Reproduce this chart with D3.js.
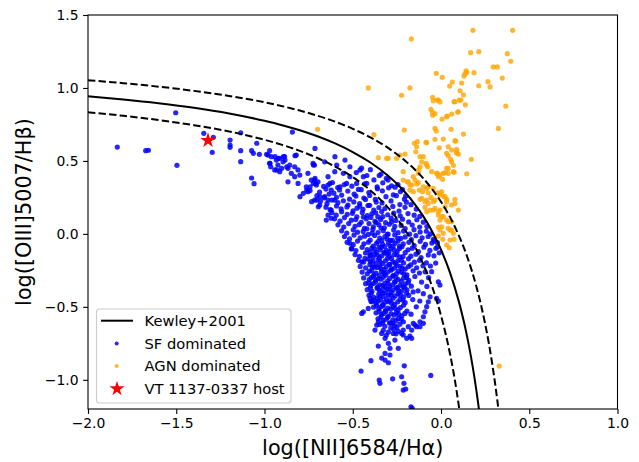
<!DOCTYPE html>
<html><head><meta charset="utf-8">
<script src="https://cdn.jsdelivr.net/npm/d3@7"></script>
<style>body{margin:0;background:#fff}svg{display:block}text{font-family:"DejaVu Sans",sans-serif}</style>
</head><body><svg id="c" width="639" height="462"></svg>
<script>
// ---- data ----
const xTicks = [-2.0, -1.5, -1.0, -0.5, 0.0, 0.5, 1.0];
const yTicks = [-1.0, -0.5, 0.0, 0.5, 1.0, 1.5];
const xLabel = "log([NII]6584/H\u03b1)";
const yLabel = "log([OIII]5007/H\u03b2)";
const legendLabels = ["Kewley+2001", "SF dominated", "AGN dominated", "VT 1137-0337 host"];

// Kewley+2001 curve (solid) and the two dashed companions
const kewleyX = [-2.0,-1.8,-1.6,-1.4,-1.2,-1.0,-0.9,-0.8,-0.7,-0.6,-0.5,-0.4,-0.3,-0.25,-0.2,-0.15,-0.1,-0.05,0.0,0.05,0.1,0.13,0.15,0.17,0.19,0.21,0.22];
const kewleyY = [0.943,0.921,0.895,0.864,0.825,0.775,0.745,0.710,0.669,0.620,0.561,0.489,0.398,0.343,0.280,0.206,0.120,0.017,-0.108,-0.262,-0.459,-0.604,-0.716,-0.843,-0.989,-1.156,-1.25];
const upperX = [-2.0,-1.8,-1.6,-1.4,-1.2,-1.0,-0.8,-0.6,-0.5,-0.4,-0.3,-0.2,-0.15,-0.1,-0.05,0.0,0.05,0.1,0.15,0.2,0.23,0.25,0.27,0.29,0.31,0.32,0.33];
const upperY = [1.053,1.033,1.009,0.980,0.945,0.902,0.845,0.769,0.720,0.661,0.589,0.498,0.443,0.380,0.306,0.220,0.117,-0.008,-0.162,-0.359,-0.504,-0.616,-0.743,-0.889,-1.056,-1.15,-1.252];
const lowerX = [-2.0,-1.8,-1.6,-1.4,-1.2,-1.0,-0.9,-0.8,-0.7,-0.6,-0.5,-0.4,-0.35,-0.3,-0.25,-0.2,-0.15,-0.1,-0.05,0.0,0.03,0.05,0.07,0.09,0.11];
const lowerY = [0.833,0.809,0.780,0.745,0.702,0.645,0.610,0.569,0.520,0.461,0.389,0.298,0.243,0.180,0.106,0.020,-0.083,-0.208,-0.362,-0.559,-0.704,-0.816,-0.943,-1.089,-1.256];

// SF dominated galaxies [log NII/Ha, log OIII/Hb]
const sfPoints = [
[-1.834,0.595],[-1.673,0.570],[-1.658,0.573],[-1.496,0.470],[-1.503,0.830],[-1.344,0.689],[-1.290,0.662],[-1.296,0.559],
[-1.195,0.643],[-1.195,0.609],[-1.195,0.593],[-1.135,0.693],[-1.135,0.570],[-1.135,0.495],[-1.073,0.383],[-1.059,0.344],
[-1.073,0.570],[-1.063,0.552],[-1.044,0.621],[-1.029,0.545],[-0.842,0.698],[-0.827,0.536],[-0.988,0.545],[-0.969,0.484],
[-0.965,0.460],[-0.940,0.529],[-0.922,0.518],[-0.893,0.529],[-0.884,0.506],[-0.931,0.438],[-0.903,0.449],[-0.874,0.460],
[-0.971,0.570],[-0.980,0.540],[-0.961,0.529],[-0.933,0.506],[-0.914,0.518],[-0.886,0.529],[-0.971,0.484],[-0.924,0.472],
[-0.895,0.494],[-0.942,0.438],[-0.914,0.426],[-0.867,0.449],[-0.857,0.472],[-0.829,0.460],[-0.810,0.438],[-0.820,0.540],
[-0.848,0.415],[-0.829,0.392],[-0.800,0.403],[-0.867,0.357],[-0.810,0.346],[-0.754,0.415],[-0.725,0.484],[-0.717,0.472],
[-0.763,0.323],[-0.754,0.289],[-0.735,0.369],[-0.716,0.369],[-0.697,0.357],[-0.706,0.335],[-0.640,0.392],[-0.659,0.494],
[-0.602,0.426],[-0.640,0.335],[-0.622,0.300],[-0.659,0.255],[-0.716,0.232],[-0.687,0.198],[-0.640,0.232],[-0.622,0.163],
[-0.602,0.232],[-0.640,0.129],[-0.650,0.095],[-0.622,0.107],
[-0.799,0.255],[-0.780,0.278],[-0.761,0.300],[-0.742,0.323],[-0.723,0.346],[-0.714,0.381],[-0.723,0.472],[-0.714,0.586],
[-0.704,0.232],[-0.686,0.255],[-0.695,0.186],[-0.733,0.221],
[-0.601,0.529],[-0.544,0.506],[-0.516,0.460],[-0.591,0.472],[-0.553,0.415],[-0.516,0.392],[-0.459,0.438],[-0.440,0.392],
[-0.421,0.346],[-0.478,0.346],[-0.535,0.346],[-0.572,0.323],[-0.629,0.346],
[-0.48,0.42],[-0.45,0.45],[-0.42,0.40],[-0.38,0.37],[-0.35,0.40],[-0.33,0.35],[-0.30,0.37],[-0.28,0.33],[-0.40,0.44],[-0.36,0.31],
[-0.34,0.41],[-0.31,0.38],[-0.26,0.32],[-0.23,0.29],[-0.20,0.26],[-0.17,0.20],[-0.14,0.17],[-0.12,0.12],[-0.10,0.08],
[-0.08,0.05],[-0.06,0.00],[-0.04,-0.05],[-0.02,-0.09],[-0.01,-0.13],[-0.02,-0.06],
[-0.71,0.345],[-0.665,0.325],[-0.615,0.352],[-0.585,0.318],[-0.548,0.338],[-0.505,0.327],[-0.468,0.305],[-0.433,0.343],[-0.362,0.322],[-0.297,0.316],[-0.244,0.338],
[-0.742,0.297],[-0.688,0.286],[-0.652,0.307],[-0.607,0.279],[-0.575,0.301],[-0.528,0.294],[-0.492,0.272],[-0.452,0.303],[-0.409,0.283],[-0.332,0.295],[-0.27,0.268],[-0.218,0.304],
[-0.703,0.262],[-0.662,0.247],[-0.634,0.273],[-0.592,0.251],[-0.563,0.266],[-0.518,0.238],[-0.482,0.259],[-0.437,0.246],[-0.404,0.263],[-0.372,0.236],[-0.312,0.255],[-0.253,0.262],[-0.207,0.238],
[-0.683,0.224],[-0.646,0.207],[-0.618,0.232],[-0.584,0.214],[-0.553,0.227],[-0.527,0.198],[-0.494,0.219],[-0.461,0.208],[-0.428,0.236],[-0.404,0.196],[-0.367,0.218],[-0.334,0.212],[-0.283,0.226],[-0.233,0.201],[-0.196,0.217],
[-0.652,0.183],[-0.628,0.166],[-0.592,0.191],[-0.566,0.172],[-0.533,0.185],[-0.498,0.158],[-0.476,0.176],[-0.442,0.169],[-0.414,0.194],[-0.381,0.163],[-0.352,0.181],[-0.318,0.174],[-0.273,0.188],[-0.238,0.157],[-0.204,0.182],[-0.46,0.19],
[-0.618,0.145],[-0.594,0.128],[-0.563,0.152],[-0.531,0.134],[-0.502,0.141],[-0.477,0.117],[-0.446,0.147],[-0.418,0.126],[-0.392,0.138],[-0.358,0.118],[-0.336,0.153],[-0.302,0.131],[-0.268,0.142],[-0.231,0.124],[-0.187,0.139],[-0.152,0.128],[-0.37,0.145],
[-0.603,0.103],[-0.572,0.087],[-0.547,0.112],[-0.508,0.094],[-0.483,0.098],[-0.452,0.079],[-0.423,0.103],[-0.397,0.113],[-0.374,0.086],[-0.342,0.099],[-0.314,0.077],[-0.282,0.108],[-0.256,0.092],[-0.218,0.101],[-0.183,0.082],[-0.137,0.097],[-0.44,0.115],[-0.33,0.118],
[-0.584,0.062],[-0.551,0.047],[-0.523,0.071],[-0.487,0.052],[-0.463,0.064],[-0.434,0.038],[-0.408,0.071],[-0.383,0.049],[-0.352,0.063],[-0.321,0.042],[-0.293,0.066],[-0.262,0.051],[-0.226,0.058],[-0.203,0.037],[-0.163,0.061],[-0.121,0.047],[-0.368,0.078],[-0.28,0.082],
[-0.563,0.021],[-0.534,0.006],[-0.497,0.028],[-0.473,0.012],[-0.441,0.017],[-0.412,-0.004],[-0.386,0.031],[-0.357,0.009],[-0.327,0.022],[-0.304,-0.003],[-0.268,0.026],[-0.243,0.008],[-0.212,0.019],[-0.178,-0.002],[-0.153,0.029],[-0.118,0.013],[-0.083,0.018],[-0.42,0.035],[-0.34,0.04],
[-0.547,-0.018],[-0.518,-0.034],[-0.493,-0.008],[-0.458,-0.027],[-0.433,-0.016],[-0.401,-0.042],[-0.376,-0.011],[-0.347,-0.029],[-0.318,-0.019],[-0.287,-0.044],[-0.262,-0.007],[-0.228,-0.031],[-0.203,-0.021],[-0.168,-0.039],[-0.142,-0.012],[-0.107,-0.027],[-0.073,-0.018],[-0.043,-0.037],[-0.39,0.005],[-0.30,-0.002],
[-0.532,-0.058],[-0.497,-0.074],[-0.473,-0.049],[-0.437,-0.068],[-0.411,-0.057],[-0.384,-0.083],[-0.357,-0.052],[-0.331,-0.071],[-0.298,-0.061],[-0.272,-0.084],[-0.243,-0.049],[-0.214,-0.069],[-0.182,-0.058],[-0.152,-0.081],[-0.118,-0.051],[-0.088,-0.072],[-0.052,-0.063],[-0.35,-0.09],[-0.26,-0.065],
[-0.508,-0.103],[-0.482,-0.114],[-0.447,-0.092],[-0.418,-0.108],[-0.392,-0.098],[-0.367,-0.124],[-0.338,-0.093],[-0.309,-0.113],[-0.283,-0.101],[-0.248,-0.121],[-0.221,-0.088],[-0.187,-0.109],[-0.163,-0.098],[-0.128,-0.122],[-0.097,-0.091],[-0.063,-0.113],[-0.029,-0.099],[-0.32,-0.13],[-0.40,-0.125],
[-0.487,-0.142],[-0.462,-0.154],[-0.428,-0.131],[-0.401,-0.149],[-0.377,-0.138],[-0.348,-0.163],[-0.323,-0.128],[-0.292,-0.152],[-0.264,-0.141],[-0.233,-0.158],[-0.203,-0.129],[-0.171,-0.153],[-0.142,-0.139],[-0.113,-0.162],[-0.072,-0.144],[-0.36,-0.145],[-0.28,-0.168],
[-0.468,-0.181],[-0.438,-0.193],[-0.413,-0.172],[-0.386,-0.188],[-0.357,-0.178],[-0.332,-0.203],[-0.303,-0.169],[-0.272,-0.191],[-0.244,-0.183],[-0.212,-0.199],[-0.184,-0.171],[-0.151,-0.194],[-0.122,-0.181],[-0.083,-0.198],[-0.37,-0.205],[-0.29,-0.21],
[-0.458,-0.223],[-0.427,-0.233],[-0.403,-0.211],[-0.377,-0.228],[-0.348,-0.219],[-0.322,-0.243],[-0.293,-0.209],[-0.262,-0.234],[-0.232,-0.222],[-0.203,-0.241],[-0.172,-0.213],[-0.138,-0.232],[-0.102,-0.219],[-0.34,-0.238],[-0.31,-0.225],[-0.25,-0.215],
[-0.447,-0.262],[-0.418,-0.274],[-0.392,-0.252],[-0.368,-0.269],[-0.337,-0.258],[-0.313,-0.283],[-0.283,-0.249],[-0.252,-0.272],[-0.223,-0.263],[-0.193,-0.281],[-0.158,-0.253],[-0.122,-0.268],[-0.35,-0.285],[-0.27,-0.285],
[-0.438,-0.302],[-0.407,-0.314],[-0.383,-0.292],[-0.357,-0.308],[-0.328,-0.297],[-0.302,-0.321],[-0.273,-0.289],[-0.242,-0.313],[-0.212,-0.303],[-0.183,-0.318],[-0.148,-0.292],[-0.32,-0.275],[-0.26,-0.33],
[-0.427,-0.341],[-0.398,-0.353],[-0.372,-0.331],[-0.347,-0.349],[-0.318,-0.338],[-0.291,-0.362],[-0.263,-0.329],[-0.232,-0.352],[-0.203,-0.342],[-0.168,-0.358],[-0.36,-0.365],[-0.30,-0.34],[-0.245,-0.37],
[-0.418,-0.382],[-0.391,-0.393],[-0.362,-0.372],[-0.338,-0.388],[-0.308,-0.379],[-0.282,-0.401],[-0.253,-0.368],[-0.222,-0.392],[-0.193,-0.383],[-0.158,-0.398],[-0.33,-0.405],[-0.27,-0.385],
[-0.408,-0.421],[-0.382,-0.433],[-0.353,-0.412],[-0.328,-0.428],[-0.298,-0.418],[-0.272,-0.441],[-0.243,-0.409],[-0.212,-0.432],[-0.183,-0.422],[-0.36,-0.44],[-0.31,-0.445],[-0.26,-0.425],
[-0.397,-0.461],[-0.368,-0.473],[-0.342,-0.451],[-0.318,-0.468],[-0.288,-0.458],[-0.262,-0.482],[-0.232,-0.449],[-0.203,-0.471],[-0.33,-0.485],[-0.28,-0.475],
[-0.382,-0.502],[-0.353,-0.513],[-0.328,-0.492],[-0.302,-0.509],[-0.272,-0.498],[-0.243,-0.521],[-0.212,-0.489],[-0.315,-0.525],[-0.26,-0.51],
[-0.368,-0.541],[-0.338,-0.553],[-0.313,-0.531],[-0.283,-0.548],[-0.253,-0.539],[-0.222,-0.562],[-0.193,-0.529],[-0.30,-0.565],
[-0.357,-0.582],[-0.328,-0.593],[-0.302,-0.572],[-0.273,-0.589],[-0.242,-0.579],[-0.213,-0.602],[-0.285,-0.61],
[-0.347,-0.621],[-0.318,-0.633],[-0.292,-0.611],[-0.262,-0.628],[-0.233,-0.619],
[-0.327,-0.661],[-0.298,-0.673],[-0.268,-0.652],[-0.242,-0.668],[-0.31,-0.695],
[-0.335,-0.045],[-0.305,-0.035],[-0.275,-0.045],[-0.245,-0.03],[-0.365,-0.065],
[-0.32,-0.085],[-0.29,-0.08],[-0.235,-0.085],[-0.375,-0.105],[-0.345,-0.11],[-0.295,-0.125],[-0.265,-0.11],[-0.235,-0.1],
[-0.385,-0.16],[-0.335,-0.15],[-0.305,-0.14],[-0.25,-0.145],[-0.215,-0.155],
[-0.40,-0.19],[-0.345,-0.19],[-0.315,-0.185],[-0.26,-0.2],[-0.225,-0.18],
[-0.39,-0.225],[-0.36,-0.23],[-0.28,-0.24],[-0.22,-0.235],[-0.185,-0.225],
[-0.405,-0.255],[-0.38,-0.28],[-0.325,-0.265],[-0.30,-0.26],[-0.24,-0.255],[-0.21,-0.275],
[-0.395,-0.30],[-0.37,-0.315],[-0.34,-0.31],[-0.29,-0.305],[-0.255,-0.30],[-0.225,-0.325],[-0.195,-0.30],
[-0.41,-0.335],[-0.385,-0.34],[-0.33,-0.355],[-0.275,-0.35],[-0.215,-0.36],[-0.185,-0.335],
[-0.40,-0.37],[-0.35,-0.385],[-0.32,-0.365],[-0.295,-0.38],[-0.24,-0.39],[-0.205,-0.37],
[-0.395,-0.405],[-0.345,-0.425],[-0.315,-0.405],[-0.285,-0.42],[-0.23,-0.42],[-0.195,-0.405],
[-0.38,-0.455],[-0.355,-0.46],[-0.30,-0.465],[-0.245,-0.465],[-0.215,-0.455],
[-0.365,-0.49],[-0.34,-0.50],[-0.285,-0.515],[-0.23,-0.505],
[-0.35,-0.53],[-0.325,-0.545],[-0.265,-0.555],[-0.24,-0.55],[-0.205,-0.545],
[-0.34,-0.57],[-0.31,-0.585],[-0.255,-0.595],[-0.225,-0.585],
[-0.33,-0.61],[-0.275,-0.615],[-0.25,-0.64],[-0.285,-0.645],[-0.255,-0.685],
[-0.355,-0.769],[-0.397,-0.869],[-0.453,-0.940],[-0.336,-0.851],[-0.317,-0.865],[-0.298,-0.883],[-0.208,-0.904],[-0.350,-1.002],
[-0.346,-1.024],[-0.274,-0.993],[-0.223,-0.979],[-0.210,-1.024],[-0.214,-1.070],[-0.200,-1.063],[-0.170,-1.185],[-0.163,-1.196],
[-0.058,-0.970],[-0.317,-0.819],[-0.289,-0.830],[-0.289,-0.784],[-0.242,-0.784],[-0.166,-0.716],[-0.317,-0.716],[-0.298,-0.750],
[-0.261,-0.728],[-0.270,-0.682],[-0.223,-0.682],[-0.214,-0.659],[-0.185,-0.636],[-0.157,-0.613],[-0.147,-0.625],[-0.119,-0.636],
[-0.100,-0.613],[-0.374,-0.659],[-0.364,-0.625],[-0.336,-0.682],[-0.355,-0.602],
[-0.053,-0.259],[-0.015,-0.328],[-0.006,-0.351],[-0.025,-0.442],[-0.015,-0.460],[-0.062,-0.431],[-0.072,-0.465],[-0.081,-0.499],
[-0.091,-0.534],[-0.100,-0.568],[-0.119,-0.602],[-0.138,-0.636],[-0.166,-0.659],[-0.176,-0.700],[-0.194,-0.716],[-0.214,-0.693],
[-0.516,-0.065],[-0.506,-0.099],[-0.449,-0.191],[-0.431,-0.168],[-0.402,-0.145],[-0.402,-0.442],[-0.393,-0.465],[-0.440,-0.534],
[-0.449,-0.545],[-0.412,-0.511],
[-0.04,-0.15],[-0.03,-0.20],[-0.06,-0.22],[-0.09,-0.26],[-0.07,-0.30],[-0.11,-0.33],[-0.08,-0.36],[-0.13,-0.39],[-0.10,-0.41],
[-0.12,-0.46],[-0.14,-0.50],[-0.16,-0.45],[-0.17,-0.55]
];

// AGN dominated galaxies
const agnPoints = [
[0.181,1.395],[0.406,1.395],[-0.168,1.336],[0.168,1.242],[0.214,1.249],[0.376,1.235],[0.395,1.183],[0.296,1.144],[0.319,1.144],
[-0.027,1.100],[0.007,1.073],[0.142,1.118],[0.147,1.107],[0.136,1.096],[0.130,1.082],[0.187,1.105],[0.064,1.041],[0.049,1.013],
[0.117,1.034],[0.266,1.043],[0.278,1.007],[0.347,1.068],[0.214,1.015],[-0.412,1.000],[-0.176,1.000],[-0.223,0.950],[0.108,0.981],
[0.127,0.952],[0.113,0.917],[0.074,0.906],[0.138,0.885],[-0.047,0.936],[-0.021,0.917],[-0.006,0.904],[-0.044,0.913],[-0.057,0.854],
[-0.049,0.835],[-0.034,0.824],[-0.047,0.813],[0.006,0.787],[0.032,0.803],[0.061,0.821],[0.095,0.835],[0.367,0.876],[0.325,0.723],
[-0.208,0.712],[-0.034,0.723],[-0.027,0.705],[0.057,0.717],[0.127,0.684],[-0.380,0.680],[-0.085,0.628],[-0.034,0.648],[0.013,0.650],
[-0.010,0.590],[0.041,0.597],[0.061,0.575],[0.032,0.552],[0.041,0.536],[0.089,0.563],[0.098,0.547],[0.172,0.511],[0.146,0.412],
[-0.151,0.621],[-0.138,0.597],[-0.143,0.563],[-0.119,0.529],[-0.204,0.547],[-0.232,0.540],[-0.355,0.522],[-0.299,0.518],
[-0.085,0.484],[-0.075,0.460],[-0.119,0.460],[-0.126,0.438],[-0.021,0.415],[-0.006,0.403],[0.023,0.419],[0.041,0.449],[0.070,0.470],
[0.055,0.511],[0.074,0.422],[0.009,0.374],[-0.214,0.369],[-0.191,0.357],[-0.176,0.335],[-0.147,0.369],[-0.138,0.342],[-0.129,0.351],
[-0.176,0.300],[-0.157,0.289],[-0.123,0.300],[-0.104,0.289],[-0.081,0.312],[-0.072,0.282],[-0.119,0.237],[-0.091,0.221],[-0.072,0.209],
[-0.057,0.250],[-0.034,0.232],[-0.021,0.282],[-0.006,0.278],[0.017,0.255],[0.032,0.237],[0.079,0.237],[-0.091,0.182],[-0.062,0.163],
[-0.034,0.175],[-0.006,0.163],[0.023,0.186],[0.098,0.163],[-0.015,0.129],[0.013,0.118],[-0.006,0.095],[0.004,0.049],[0.041,0.083],
[0.051,0.026],[0.070,0.004],[-0.006,0.027],[-0.015,-0.015],[0.010,-0.037],[0.032,-0.076],[0.047,-0.095],[0.074,-0.037],[0.330,-0.906],
[-0.699,0.717],[-0.134,0.632],[0.089,0.552],[0.060,0.494],[0.032,0.449],[0.013,0.415],[0.041,0.415],[0.070,0.426],[-0.025,0.415],
[-0.015,0.392],[-0.251,0.518],[-0.308,0.518],[-0.100,0.529],[-0.109,0.494],[-0.081,0.472],[-0.053,0.426],[-0.157,0.392],[-0.129,0.415],
[-0.214,0.426],[-0.185,0.357],[-0.166,0.335],[-0.100,0.323],[-0.072,0.323],[-0.044,0.312],[-0.109,0.244],[-0.081,0.232],[-0.044,0.221],
[-0.006,0.266],[0.004,0.289],[0.023,0.255],[0.032,0.221],[0.060,0.198],[0.079,0.209],[-0.044,0.163],[-0.015,0.152],[-0.081,0.152],
[0.004,0.118],[0.032,0.095],[0.060,0.083],[0.041,0.038],[0.060,0.026],[-0.015,0.045],[0.013,0.004],[0.051,-0.042],
[-0.015,0.917],[0.036,0.808],[0.079,0.906],[0.098,0.837],[0.104,0.917],[-0.081,0.625],[0.079,0.639],[0.089,0.579],[0.083,0.636]
];

const hostPoint = [[-1.32, 0.64]];

// ---- drawing ----
const svg = d3.select("#c");
const L = 88, R = 617.5, T = 15, B = 409;
const x = d3.scaleLinear().domain([-2, 1]).range([L, R]);
const y = d3.scaleLinear().domain([-1.2, 1.5]).range([B, T]);
const fmt = v => d3.format(".1f")(v).replace("-", "\u2212");

svg.append("defs").append("clipPath").attr("id", "clip")
  .append("rect").attr("x", L).attr("y", T).attr("width", R - L).attr("height", B - T);

const plot = svg.append("g").attr("clip-path", "url(#clip)");

plot.append("g").selectAll("circle").data(sfPoints).join("circle")
  .attr("cx", d => x(d[0])).attr("cy", d => y(d[1])).attr("r", 2.6)
  .attr("fill", "#0000ff").attr("fill-opacity", 0.85);
plot.append("g").selectAll("circle").data(agnPoints).join("circle")
  .attr("cx", d => x(d[0])).attr("cy", d => y(d[1])).attr("r", 2.6)
  .attr("fill", "#ffa500").attr("fill-opacity", 0.8);

const line = d3.line().x(d => x(d[0])).y(d => y(d[1])).curve(d3.curveMonotoneX);
const zip = (a, b) => a.map((v, i) => [v, b[i]]);
plot.append("path").attr("d", line(zip(kewleyX, kewleyY)))
  .attr("fill", "none").attr("stroke", "#000").attr("stroke-width", 2);
plot.append("path").attr("d", line(zip(upperX, upperY)))
  .attr("fill", "none").attr("stroke", "#000").attr("stroke-width", 2).attr("stroke-dasharray", "7.4,3.2");
plot.append("path").attr("d", line(zip(lowerX, lowerY)))
  .attr("fill", "none").attr("stroke", "#000").attr("stroke-width", 2).attr("stroke-dasharray", "7.4,3.2");

const star = d3.symbol().type(d3.symbolStar).size(75);
plot.selectAll("path.host").data(hostPoint).join("path").attr("class", "host")
  .attr("d", star).attr("transform", d => `translate(${x(d[0])},${y(d[1])})`).attr("fill", "#ff0000");

// axes
const xa = svg.append("g").attr("transform", `translate(0,${B})`)
  .call(d3.axisBottom(x).tickValues(xTicks).tickFormat(fmt).tickSize(4.9).tickPadding(4.6));
const ya = svg.append("g").attr("transform", `translate(${L},0)`)
  .call(d3.axisLeft(y).tickValues(yTicks).tickFormat(fmt).tickSize(4.9).tickPadding(4.6));
[xa, ya].forEach(g => {
  g.select(".domain").remove();
  g.selectAll("line").attr("stroke", "#000").attr("stroke-width", 1.1);
  g.selectAll("text").attr("font-size", 13.9).attr("fill", "#000").attr("font-family", "DejaVu Sans");
});
svg.append("rect").attr("x", L).attr("y", T).attr("width", R - L).attr("height", B - T)
  .attr("fill", "none").attr("stroke", "#000").attr("stroke-width", 1.1);

svg.append("text").attr("x", (L + R) / 2).attr("y", 455).attr("text-anchor", "middle")
  .attr("font-size", 20.8).text(xLabel);
svg.append("text").attr("transform", `translate(31,${(T + B) / 2}) rotate(-90)`).attr("text-anchor", "middle")
  .attr("font-size", 20.8).text(yLabel);

// legend
const lg = svg.append("g");
lg.append("rect").attr("x", 96.5).attr("y", 309).attr("width", 194.5).attr("height", 94).attr("rx", 3)
  .attr("fill", "#fff").attr("fill-opacity", 0.8).attr("stroke", "#cccccc").attr("stroke-width", 1.1);
const rows = [320.7, 343.5, 366, 388.8];
lg.append("line").attr("x1", 101).attr("x2", 133).attr("y1", rows[0]).attr("y2", rows[0])
  .attr("stroke", "#000").attr("stroke-width", 2);
lg.append("circle").attr("cx", 116.7).attr("cy", rows[1]).attr("r", 2).attr("fill", "#0000ff").attr("fill-opacity", 0.85);
lg.append("circle").attr("cx", 116.7).attr("cy", rows[2]).attr("r", 2).attr("fill", "#ffa500").attr("fill-opacity", 0.8);
lg.append("path").attr("d", d3.symbol().type(d3.symbolStar).size(70)()).attr("transform", `translate(117,${rows[3]})`).attr("fill", "#ff0000");
lg.selectAll("text.l").data(legendLabels).join("text").attr("class", "l")
  .attr("x", 144.5).attr("y", (d, i) => rows[i] + 5.2).attr("font-size", 14.7).text(d => d);
</script></body></html>
